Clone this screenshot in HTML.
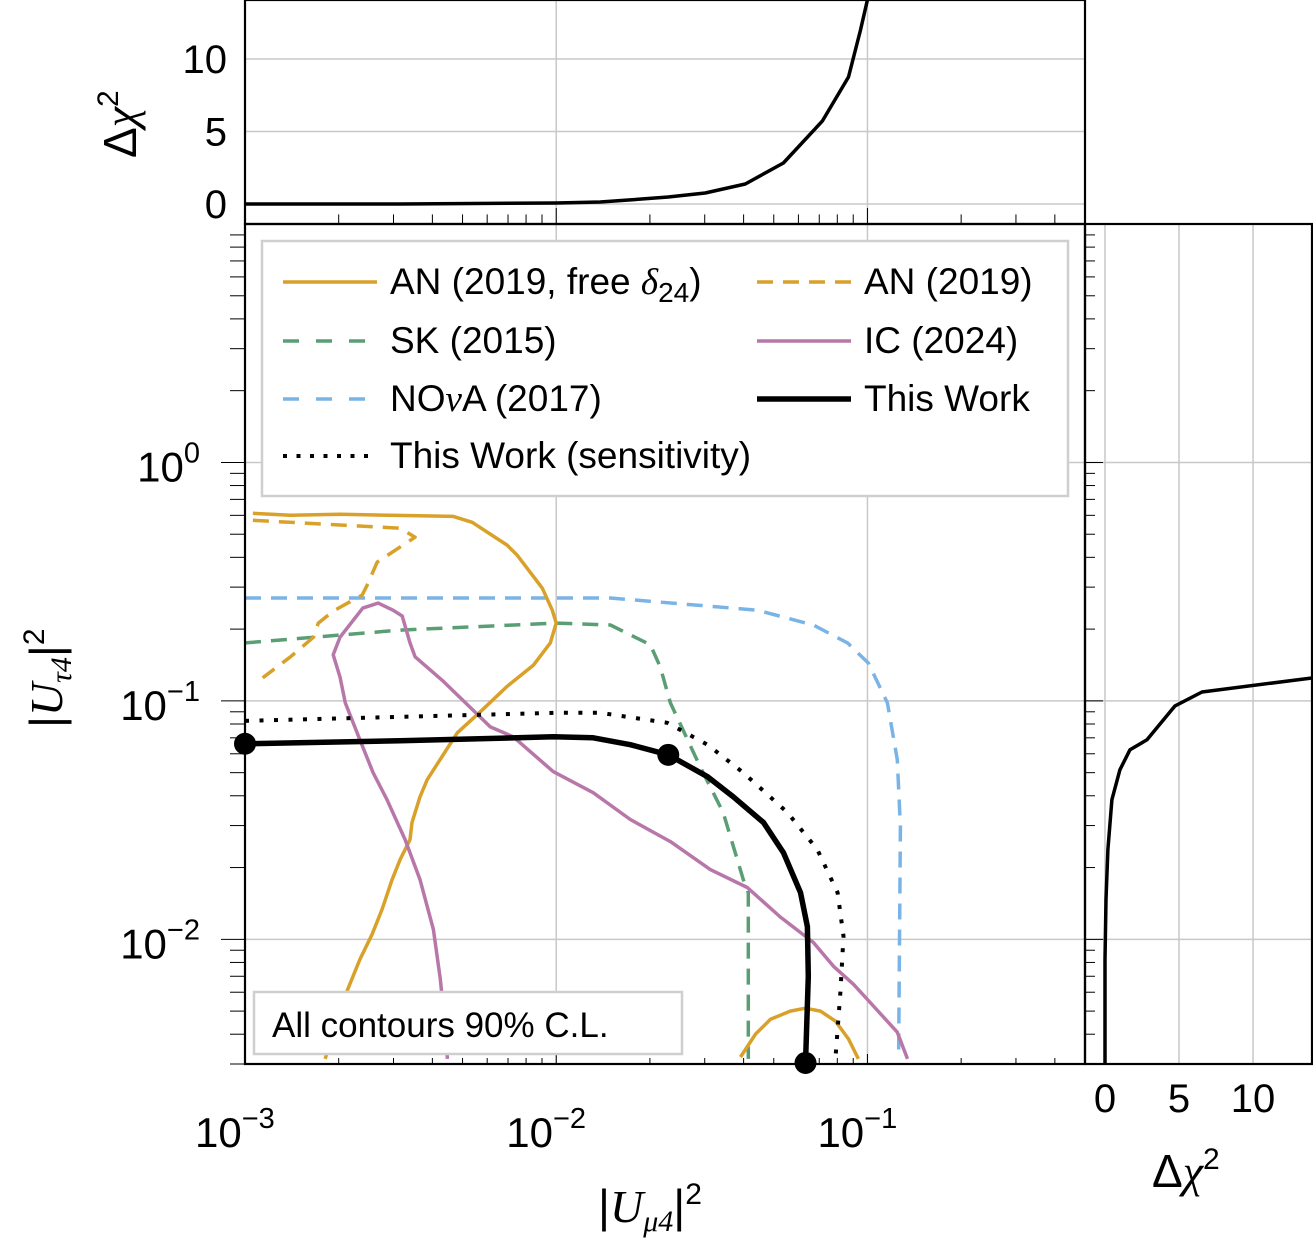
<!DOCTYPE html>
<html><head><meta charset="utf-8"><style>
html,body{margin:0;padding:0;background:#fff;}
svg{display:block;font-family:"Liberation Sans",sans-serif;}
</style></head><body>
<svg id="chart" width="1313" height="1248" viewBox="0 0 1313 1248" xmlns="http://www.w3.org/2000/svg"></svg>
<script>
// ---- data ----
const anFreeX=[0.00106,0.00140,0.00202,0.00293,0.00467,0.00537,0.00695,0.00750,0.00902,0.00971,0.01,0.00957,0.00844,0.00695,0.00570,0.00481,0.00385,0.00365,0.00344,0.00339,0.00315,0.00297,0.00276,0.00256,0.00234,0.00214,0.00199,0.00185,0.00181];
const anFreeY=[0.612,0.600,0.606,0.600,0.594,0.561,0.450,0.408,0.297,0.240,0.212,0.175,0.141,0.115,0.0900,0.0735,0.0467,0.0396,0.0309,0.0262,0.0216,0.0178,0.0134,0.0105,0.00824,0.00618,0.00462,0.00347,0.00315];
const anArcX=[0.0391,0.0437,0.0488,0.0565,0.0632,0.0706,0.0789,0.0869,0.0935];
const anArcY=[0.00321,0.00401,0.00462,0.00500,0.00514,0.00500,0.00454,0.00382,0.00315];
const an19X=[0.00106,0.00315,0.00352,0.00266,0.00247,0.00238,0.00192,0.00172,0.00166,0.00140,0.00114];
const an19Y=[0.572,0.530,0.486,0.382,0.306,0.278,0.238,0.212,0.185,0.153,0.125];
const skX=[0.001,0.00315,0.01,0.01493,0.02005,0.02158,0.02328,0.0290,0.0344,0.0399,0.0414,0.0414];
const skY=[0.175,0.198,0.212,0.208,0.172,0.139,0.0981,0.0530,0.0340,0.0178,0.0157,0.00315];
const novaX=[0.001,0.01,0.01493,0.04426,0.0670,0.0863,0.1007,0.1159,0.1247,0.1276,0.1259];
const novaY=[0.270,0.270,0.270,0.240,0.208,0.175,0.144,0.0981,0.0566,0.0297,0.00315];
const icX=[0.00447,0.00440,0.00424,0.00403,0.00365,0.00327,0.00286,0.00258,0.00234,0.00210,0.00202,0.00192,0.00202,0.00239,0.00268,0.00299,0.00320,0.00339,0.00352,0.00430,0.00614,0.00728,0.00978,0.01315,0.0173,0.02328,0.03127,0.04111,0.05248,0.0670,0.0778,0.0902,0.1045,0.1247,0.1345];
const icY=[0.00315,0.00420,0.00681,0.0110,0.0178,0.0262,0.0385,0.0500,0.0687,0.0981,0.126,0.156,0.185,0.245,0.257,0.240,0.227,0.175,0.153,0.122,0.0778,0.0707,0.0505,0.0412,0.0318,0.0257,0.0196,0.0165,0.0124,0.00971,0.00771,0.00648,0.00525,0.00408,0.00315];
const twX=[0.001,0.00315,0.00978,0.01315,0.0173,0.02291,0.03062,0.03707,0.04634,0.0537,0.06095,0.06412,0.06457,0.06324];
const twY=[0.0661,0.0680,0.0707,0.0700,0.0655,0.0594,0.0481,0.0396,0.0309,0.0231,0.0157,0.0113,0.00700,0.00303];
const markX=[0.001,0.02291,0.06324];
const markY=[0.0661,0.0594,0.00303];
const sensX=[0.001,0.00315,0.01,0.01384,0.02275,0.03062,0.0399,0.05534,0.06902,0.08017,0.08375,0.08185,0.07889];
const sensY=[0.0824,0.0857,0.0891,0.0891,0.0809,0.0655,0.0500,0.0340,0.0238,0.0157,0.0103,0.00600,0.00315];
const topX=[0.001,0.00315,0.01,0.01384,0.0173,0.0229,0.0301,0.0405,0.0537,0.0716,0.0869,0.0950,0.1];
const topChi=[0,0,0.07,0.14,0.28,0.48,0.76,1.38,2.83,5.72,8.76,12.0,14.1];
const rightChi=[0,0,0.07,0.2,0.47,1.01,1.69,2.84,4.73,6.55,14.05];
const rightY=[0.00303,0.00824,0.0147,0.0238,0.0385,0.0514,0.0624,0.0687,0.0953,0.109,0.125];
const chiTicks=[0,5,10];
const decadesX=[0.001,0.01,0.1];
const decadesY=[0.01,0.1,1];

// ---- axes ----
const L=245,R=1085,T=224,B=1064,RR=1313;
const xMin=0.001,xMax=0.5,yMin=0.003,yMax=10;
const sx=v=>L+(Math.log10(v)-Math.log10(xMin))/(Math.log10(xMax)-Math.log10(xMin))*(R-L);
const sy=v=>B-(Math.log10(v)-Math.log10(yMin))/(Math.log10(yMax)-Math.log10(yMin))*(B-T);
const tyMin=-1.38,tyMax=14.07;
const ty=v=>T-(v-tyMin)/(tyMax-tyMin)*T;
const rxMin=-1.35,rxMax=14.05;
const rx=v=>R+(v-rxMin)/(rxMax-rxMin)*(RR-R);

const svg=document.getElementById('chart');
const NS='http://www.w3.org/2000/svg';
function mk(tag,attrs,parent){const e=document.createElementNS(NS,tag);for(const k in attrs)e.setAttribute(k,attrs[k]);(parent||svg).appendChild(e);return e;}
function clip(id,x,y,w,h){const c=mk('clipPath',{id:id});mk('rect',{x:x,y:y,width:w,height:h},c);}
clip('cm',L,T,R-L,B-T);clip('ct',L,0,R-L,T);clip('cr',R,T,RR-R,B-T);

// grids
const grid=mk('g',{stroke:'#c8c8c8','stroke-width':1.5});


decadesX.forEach(v=>{mk('line',{x1:sx(v),x2:sx(v),y1:0,y2:B},grid);});
decadesY.forEach(v=>{mk('line',{x1:L,x2:RR,y1:sy(v),y2:sy(v)},grid);});
chiTicks.forEach(v=>{mk('line',{x1:L,x2:R,y1:ty(v),y2:ty(v)},grid);mk('line',{x1:rx(v),x2:rx(v),y1:T,y2:B},grid);});

// minor ticks
const ticks=mk('g',{stroke:'#000','stroke-width':1});


for(let d=-3;d<0;d++)for(let m=1;m<10;m++){const v=m*Math.pow(10,d);if(v>xMax)continue;const x=sx(v);const len=m===1?10:6;
 mk('line',{x1:x,x2:x,y1:B,y2:B-len},ticks);mk('line',{x1:x,x2:x,y1:T,y2:T-len*1.6},ticks);}
for(let d=-3;d<1;d++)for(let m=1;m<10;m++){const v=m*Math.pow(10,d);if(v<yMin||v>yMax)continue;const y=sy(v);const len=m===1?24:15;
 mk('line',{x1:L,x2:L-len,y1:y,y2:y},ticks);mk('line',{x1:R,x2:R+(m===1?18:10),y1:y,y2:y},ticks);}

function path(xs,ys,fx,fy,st,name,cp){let d='';for(let i=0;i<xs.length;i++)d+=(i?'L':'M')+fx(xs[i]).toFixed(1)+','+fy(ys[i]).toFixed(1);
 const p=mk('path',Object.assign({d:d,fill:'none','clip-path':'url(#'+cp+')','stroke-linejoin':'round'},st));
 
 return p;}
const OR='#d9a12a',GR='#5a9e74',BL='#7ab4e6',PK='#b877a9';
path(novaX,novaY,sx,sy,{stroke:BL,'stroke-width':3.5,'stroke-dasharray':'16,10'},'nova-2017-contour','cm');
path(skX,skY,sx,sy,{stroke:GR,'stroke-width':3.5,'stroke-dasharray':'16,10'},'sk-2015-contour','cm');
path(an19X,an19Y,sx,sy,{stroke:OR,'stroke-width':3.5,'stroke-dasharray':'16,10'},'an-2019-contour','cm');
path(anFreeX,anFreeY,sx,sy,{stroke:OR,'stroke-width':3.5},'an-2019-free-contour','cm');
path(anArcX,anArcY,sx,sy,{stroke:OR,'stroke-width':3.5},'an-2019-free-arc','cm');
path(icX,icY,sx,sy,{stroke:PK,'stroke-width':3.5},'ic-2024-contour','cm');
path(sensX,sensY,sx,sy,{stroke:'#000','stroke-width':4,'stroke-dasharray':'4,10.5'},'this-work-sensitivity','cm');
path(twX,twY,sx,sy,{stroke:'#000','stroke-width':5.5},'this-work-contour','cm');
markX.forEach((v,i)=>{const c=mk('circle',{cx:sx(v),cy:sy(markY[i]),r:11,fill:'#000'});
 
 });
path(topX,topChi,sx,ty,{stroke:'#000','stroke-width':3.5},'top-delta-chi2-curve','ct');
path(rightChi,rightY,rx,sy,{stroke:'#000','stroke-width':3.5},'right-delta-chi2-curve','cr');

// frames
[[L,0,R-L,T,'top-panel-frame'],[L,T,R-L,B-T,'main-panel-frame'],[R,T,RR-R-1,B-T,'right-panel-frame']].forEach(f=>{
 const r=mk('rect',{x:f[0],y:f[1],width:f[2],height:f[3],fill:'none',stroke:'#000','stroke-width':2.2});
 
 });

// tick labels
function txt(s,x,y,attrs,name){const t=mk('text',Object.assign({x:x,y:y,'font-size':38,fill:'#000'},attrs||{}));t.innerHTML=s;
 
 return t;}
const expX=['&#8722;3','&#8722;2','&#8722;1'];
decadesX.forEach((v,i)=>txt('10<tspan dy="-19" font-size="29">'+expX[i]+'</tspan>',sx(v)-50,1147,{'font-size':42},'x-tick-label'));
const expY=['&#8722;2','&#8722;1','0'];
decadesY.forEach((v,i)=>txt('10<tspan dy="-19" font-size="29">'+expY[i]+'</tspan>',200,sy(v)+19,{'font-size':42,'text-anchor':'end'},'y-tick-label'));
chiTicks.forEach(v=>txt(String(v),227,ty(v)+14,{'text-anchor':'end','font-size':40},'top-y-tick-label'));
chiTicks.forEach(v=>txt(String(v),rx(v),1112,{'text-anchor':'middle','font-size':40},'right-x-tick-label'));

// axis titles
txt('&#916;<tspan font-family="Liberation Serif" font-style="italic">&#967;</tspan><tspan dy="-18" font-size="30">2</tspan>',0,0,{transform:'translate(136,158) rotate(-90)','font-size':46},'top-y-axis-title');
txt('&#916;<tspan font-family="Liberation Serif" font-style="italic">&#967;</tspan><tspan dy="-18" font-size="30">2</tspan>',1152,1187,{'font-size':46},'right-x-axis-title');
txt('|<tspan font-family="Liberation Serif" font-style="italic">U</tspan><tspan dy="9" font-size="30" font-family="Liberation Serif" font-style="italic">&#964;4</tspan><tspan dy="-9">|</tspan><tspan dy="-18" font-size="30">2</tspan>',0,0,{transform:'translate(62,728) rotate(-90)','font-size':46},'y-axis-title');
txt('|<tspan font-family="Liberation Serif" font-style="italic">U</tspan><tspan dy="9" font-size="30" font-family="Liberation Serif" font-style="italic">&#956;4</tspan><tspan dy="-9">|</tspan><tspan dy="-18" font-size="30">2</tspan>',598,1222,{'font-size':46},'x-axis-title');

// legend
const lg=mk('g',{});


mk('rect',{x:262,y:241,width:806,height:255,fill:'#fff',stroke:'#cfcfcf','stroke-width':2.5},lg);
const legItems=[
 [283,281,OR,'none',3.5,'AN (2019, free <tspan font-family="Liberation Serif" font-style="italic">&#948;</tspan><tspan dy="8" font-size="28">24</tspan><tspan dy="-8">)</tspan>'],
 [757,281,OR,'16,10',3.5,'AN (2019)'],
 [283,340,GR,'16,17',3.5,'SK (2015)'],
 [757,340,PK,'none',3.5,'IC (2024)'],
 [283,398,BL,'16,17',3.5,'NO<tspan font-family="Liberation Serif" font-style="italic">&#957;</tspan>A (2017)'],
 [757,398,'#000','none',5.5,'This Work'],
 [283,455,'#000','4,9.5',4,'This Work (sensitivity)']];
legItems.forEach(it=>{
 const g=mk('g',{},lg);
 
 
 mk('line',{x1:it[0],x2:it[0]+94,y1:it[1]+1,y2:it[1]+1,stroke:it[2],'stroke-width':it[4],'stroke-dasharray':it[3]},g);
 const t=mk('text',{x:it[0]+107,y:it[1]+13,'font-size':37},g);t.innerHTML=it[5];});

// annotation box
const ab=mk('g',{});


mk('rect',{x:254,y:992,width:428,height:62,fill:'#fff',stroke:'#cfcfcf','stroke-width':2.5},ab);
const at=mk('text',{x:272,y:1037,'font-size':35},ab);at.textContent='All contours 90% C.L.';
</script>
</body></html>
